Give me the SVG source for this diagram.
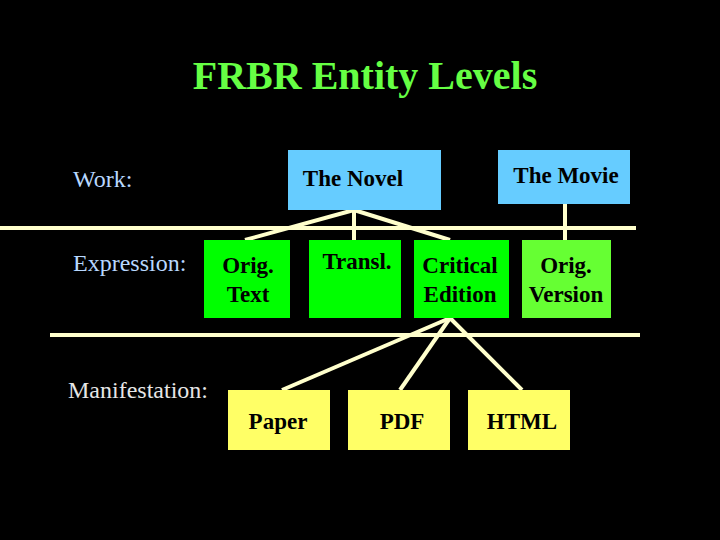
<svg xmlns="http://www.w3.org/2000/svg" width="720" height="540" viewBox="0 0 720 540">
<style>
text{font-family:"Liberation Serif","Times New Roman",serif;font-size:23px}
.t{font-weight:bold;fill:#000;text-anchor:middle}
.lab{fill:#b8d8ff;font-size:24px}
.c line{stroke:#ffffcc;stroke-width:4}
.b{fill:#66ccff}.g{fill:#00ff00}.lg{fill:#66ff33}.y{fill:#ffff66}
</style>
<rect width="720" height="540" fill="#000"/>
<text x="365" y="89" text-anchor="middle" style="font-size:40px;font-weight:bold;fill:#66ff44">FRBR Entity Levels</text>
<text class="lab" x="73" y="187">Work:</text>
<text class="lab" x="73" y="271">Expression:</text>
<text class="lab" x="68" y="398" style="fill:#e6e6e6">Manifestation:</text>
<g class="c">
<line x1="0" y1="228" x2="636" y2="228"/>
<line x1="50" y1="335" x2="640" y2="335"/>
<line x1="354" y1="210" x2="245" y2="240"/>
<line x1="354" y1="210" x2="354" y2="240"/>
<line x1="354" y1="210" x2="450" y2="240"/>
<line x1="565" y1="204" x2="565" y2="240"/>
<line x1="450" y1="318" x2="282" y2="390"/>
<line x1="450" y1="318" x2="400" y2="390"/>
<line x1="450" y1="318" x2="522" y2="390"/>
</g>
<g id="novel"><rect class="b" x="288" y="150" width="153" height="60"/><text class="t" x="353" y="186">The Novel</text></g>
<g id="movie"><rect class="b" x="498" y="150" width="132" height="54"/><text class="t" x="566" y="183">The Movie</text></g>
<g id="origtext"><rect class="g" x="204" y="240" width="86" height="78"/><text class="t" x="248" y="273">Orig.</text><text class="t" x="248" y="302">Text</text></g>
<g id="transl"><rect class="g" x="309" y="240" width="92" height="78"/><text class="t" x="357" y="269">Transl.</text></g>
<g id="critical"><rect class="g" x="414" y="240" width="95" height="78"/><text class="t" x="460" y="273">Critical</text><text class="t" x="460" y="302">Edition</text></g>
<g id="origversion"><rect class="lg" x="522" y="240" width="89" height="78"/><text class="t" x="566" y="273">Orig.</text><text class="t" x="566" y="302">Version</text></g>
<g id="paper"><rect class="y" x="228" y="390" width="102" height="60"/><text class="t" x="278" y="429">Paper</text></g>
<g id="pdf"><rect class="y" x="348" y="390" width="102" height="60"/><text class="t" x="402" y="429">PDF</text></g>
<g id="html"><rect class="y" x="468" y="390" width="102" height="60"/><text class="t" x="522" y="429">HTML</text></g>
</svg>
